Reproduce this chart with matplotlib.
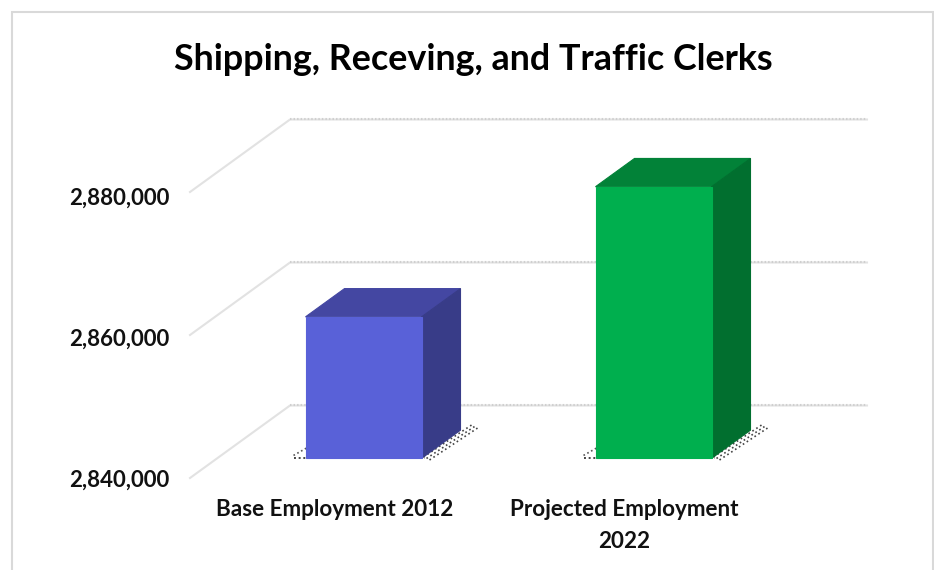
import matplotlib
matplotlib.use("Agg")
import matplotlib.pyplot as plt
from matplotlib.patches import Polygon, Rectangle

title = "Shipping, Receving, and Traffic Clerks"
categories = ["Base Employment 2012", "Projected Employment\n2022"]
values = [2859800, 2878000]
ticks = [2840000, 2860000, 2880000]
front = ["#5961D8", "#00AF4E"]
top = ["#4447A2", "#028238"]
side = ["#383C88", "#016F2F"]

W, H = 934, 570
fig = plt.figure(figsize=(W / 100, H / 100), dpi=100)
ax = fig.add_axes([0, 0, 1, 1])

# Scales: front-plane value 2,840,000 sits at pixel y=478, 20,000 units = 143 px.
# One category = 290 px, first category at pixel x=335 on the front plane.
PX_Y = 20000 / 143
PX_X = 1 / 290
ax.set_xlim((0 - 335) * PX_X, (W - 335) * PX_X)
ax.set_ylim(ticks[0] - (H - 478) * PX_Y, ticks[0] + 478 * PX_Y)
ax.axis("off")

DX, DY = 100 * PX_X, 72.5 * PX_Y     # full floor depth


def proj(x, v, d):
    return (x + d * DX, v + d * DY)


x_lo, x_hi = -0.5, 1.5
grid = "#E2E2E2"
for t in ticks:
    ax.plot(*zip(proj(x_lo, t, 0), proj(x_lo, t, 1), proj(x_hi - 3 * PX_X, t, 1)),
            color=grid, lw=1.5, zorder=1, solid_joinstyle="round")
    ax.plot(*zip(proj(x_lo, t, 1), proj(x_hi - 3 * PX_X, t, 1)),
            color="#CFCFCF", lw=1.5, ls=(0, (0.7, 1.0)), zorder=1)

d0, d1 = 0.27, 0.66
half = 58 * PX_X
base = ticks[0]
shift = 1.5 * PX_X
for i, v in enumerate(values):
    a, b = i - half + shift, i + half + shift
    # dotted footprint shadow
    for dd in (0, 1.5, 3.0):
        ax.plot(*zip(proj(b + dd * PX_X * 2, base - dd * PX_Y, d0 + 0.02),
                     proj(b + (dd + 2) * PX_X * 2, base - dd * PX_Y, d1 + 0.07)),
                color="#444444", lw=1.2, ls=(0, (1, 1.8)), zorder=2)
    ax.plot(*zip(proj(a - 12 * PX_X, base, d0), proj(b + 3 * PX_X, base, d0)),
            color="#444444", lw=1.4, ls=(0, (1, 1.4)), zorder=2)
    ax.plot(*zip(proj(a - 12 * PX_X, base + 3 * PX_Y, d0), proj(a, base + 9 * PX_Y, d0 + 0.05)),
            color="#555555", lw=1.2, ls=(0, (1, 1.6)), zorder=2)
    ax.add_patch(Polygon([proj(a, v, d0), proj(b, v, d0), proj(b, v, d1), proj(a, v, d1)],
                         fc=top[i], ec=top[i], lw=0.8, zorder=3))
    ax.add_patch(Polygon([proj(b, base, d0), proj(b, base, d1), proj(b, v, d1), proj(b, v, d0)],
                         fc=side[i], ec=side[i], lw=0.8, zorder=3))
    ax.add_patch(Polygon([proj(a, base, d0), proj(b, base, d0), proj(b, v, d0), proj(a, v, d0)],
                         fc=front[i], ec=front[i], lw=0.8, zorder=4))

font = "Lato"
for j, t in enumerate(ticks):
    ax.text(-0.5 - 21 * PX_X, t + (j * -1 - 0) * PX_Y * -0 - (1 + 2 * j) * PX_Y + 1 * PX_Y, f"{t:,}", ha="right", va="center_baseline",
            family=font, weight="bold", fontsize=16, color="#111111")

label_x = [335, 624]
for i, c in enumerate(categories):
    ax.text((label_x[i] - 335) * PX_X, ticks[0] - 21.5 * PX_Y, c, ha="center", va="top",
            family=font, weight="bold", fontsize=16.2, color="#111111", linespacing=1.6)

fig.text(473 / W, 1 - 59 / H, title, ha="center", va="center",
         family=font, weight="bold", fontsize=25.8, color="black")

# outer chart frame
fig.add_artist(Rectangle((12 / W, -0.1), (933 - 12) / W, 1 + 0.1 - 12 / H,
                         transform=fig.transFigure, fc="none", ec="#D9D9D9", lw=1.5))
fig.savefig("out.png", dpi=100, facecolor="white")
